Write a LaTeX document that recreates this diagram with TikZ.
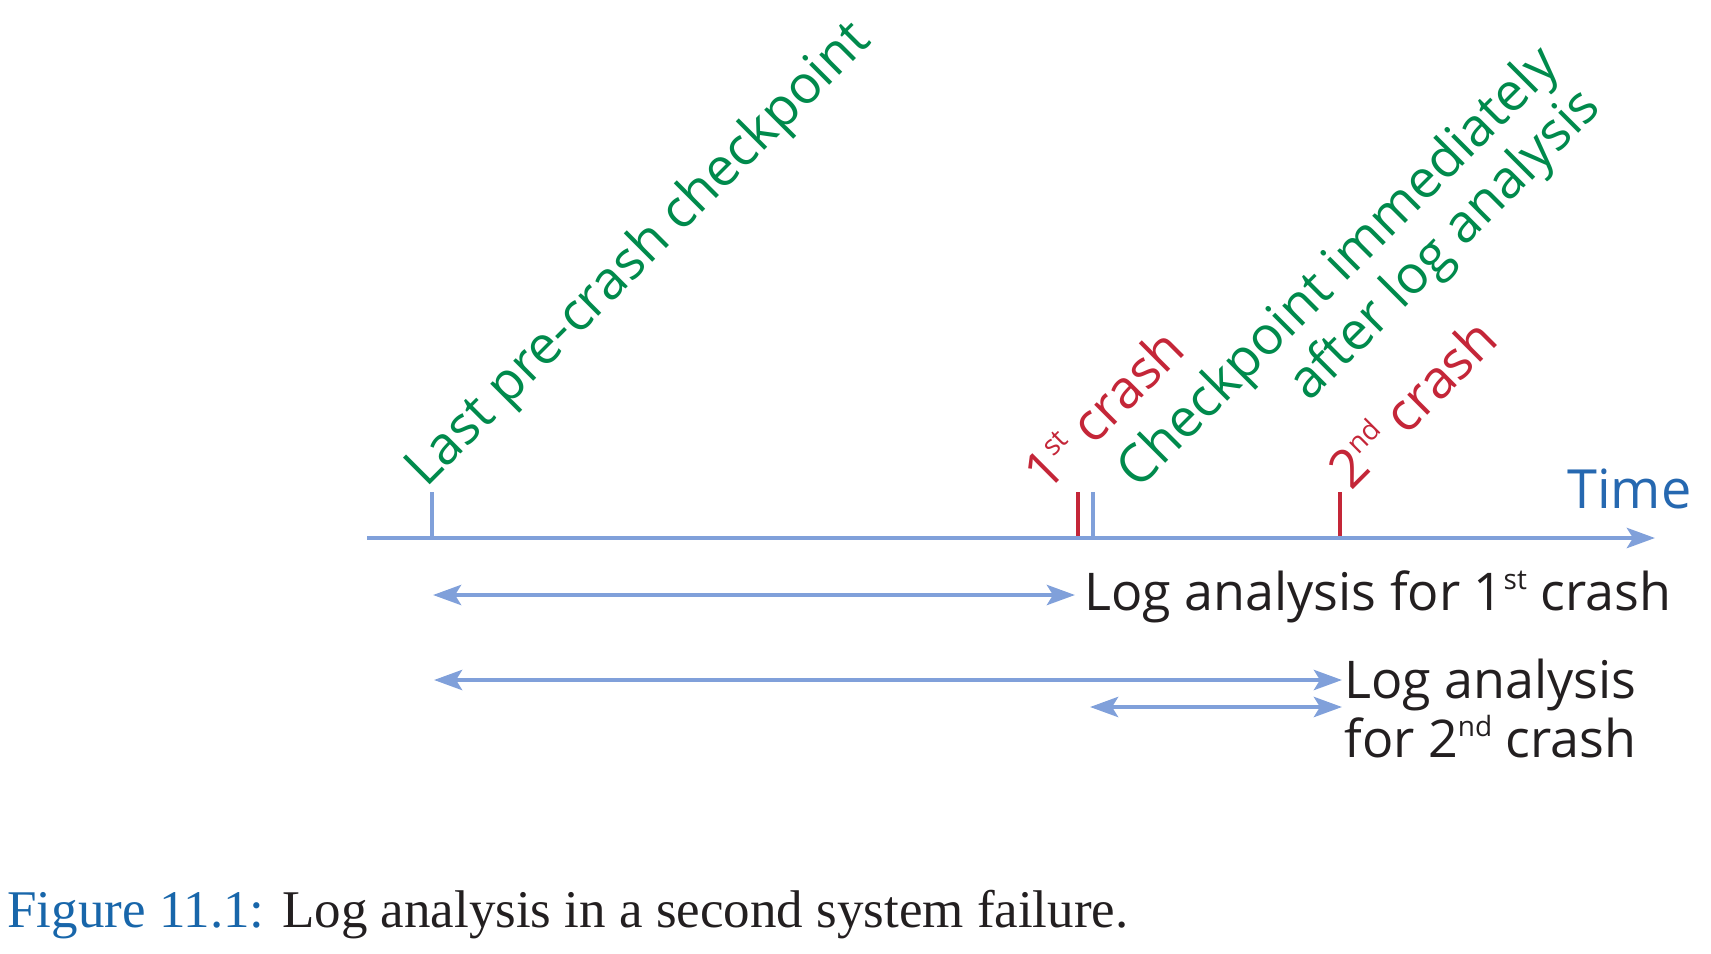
\documentclass[tikz,border=0pt]{standalone}
\usepackage{fontspec}
\setmainfont{Liberation Serif}
\newfontfamily\labelfont{Open Sans}
\usetikzlibrary{arrows.meta}
\definecolor{lineblue}{RGB}{128,160,218}
\definecolor{timeblue}{RGB}{38,104,176}
\definecolor{ckgreen}{RGB}{0,138,76}
\definecolor{crashred}{RGB}{196,38,56}
\definecolor{capblue}{RGB}{24,102,170}
\definecolor{inkgray}{RGB}{35,31,32}
\newcommand\ord[1]{\raisebox{0.72ex}{\fontsize{14}{14}\selectfont #1}}
\begin{document}
\begin{tikzpicture}[x=0.5pt, y=-0.5pt,
		lbl/.style={font=\labelfont\fontsize{26}{29.5}\selectfont, inner sep=0pt, text=inkgray},
		slanted/.style={lbl, font=\labelfont\fontsize{26.5}{29.5}\selectfont, rotate=45, anchor=base west},
		axisline/.style={lineblue, line width=2.4pt, -{Stealth[length=14pt, width=10pt, inset=3pt]}},
		spanarrow/.style={lineblue, line width=2.3pt, {Stealth[length=14pt, width=10pt, inset=3pt]}-{Stealth[length=14pt, width=10pt, inset=3pt]}},
		tickline/.style={line width=2pt}]
		\useasboundingbox (0,0) rectangle (1711,953);
		% time axis with its ticks
		\draw [tickline, lineblue](432,538) -- (432,492);
		\draw [tickline, crashred](1078,538) -- (1078,492);
		\draw [tickline, lineblue](1093,538) -- (1093,492);
		\draw [tickline, crashred](1340,538) -- (1340,492);
		\coordinate (t0) at (367,538);
		\coordinate (t1) at (1655,538);
		\draw [axisline](t0) -- (t1);
		\node (time) at (1567,508)[lbl, font=\labelfont\fontsize{27}{30}\selectfont, anchor=base west, text=timeblue]{Time};
		% slanted labels
		\node (last) at (426,489)[slanted, text=ckgreen]{Last pre-crash checkpoint};
		\node (crash1) at (1046,494)[slanted, text=crashred]{1\ord{st} crash};
		\node (ckpt) at (1361,290)[slanted, anchor=center, align=right, text=ckgreen]{Checkpoint immediately\\after log analysis};
		\node (crash2) at (1351,492)[slanted, text=crashred]{2\ord{nd} crash};
		% log analysis spans
		\coordinate (a1l) at (433,595);
		\coordinate (a1r) at (1075,595);
		\draw [spanarrow](a1l) -- (a1r);
		\node (log1) at (1084,610)[lbl, anchor=base west]{Log analysis for 1\ord{st} crash};
		\coordinate (a2l) at (434,680);
		\coordinate (a2r) at (1342,680);
		\draw [spanarrow](a2l) -- (a2r);
		\coordinate (a3l) at (1090,707);
		\coordinate (a3r) at (1342,707);
		\draw [spanarrow](a3l) -- (a3r);
		\node (log2) at (1344,757)[lbl, anchor=base west, align=left]{Log analysis\\for 2\ord{nd} crash};
		% caption
		\node (caption) at (7,927)[anchor=base west, inner sep=0pt, text=inkgray, font=\fontsize{26.5}{30}\selectfont]{\textcolor{capblue}{Figure 11.1:} Log analysis in a second system failure.};
	\end{tikzpicture}
\end{document}
